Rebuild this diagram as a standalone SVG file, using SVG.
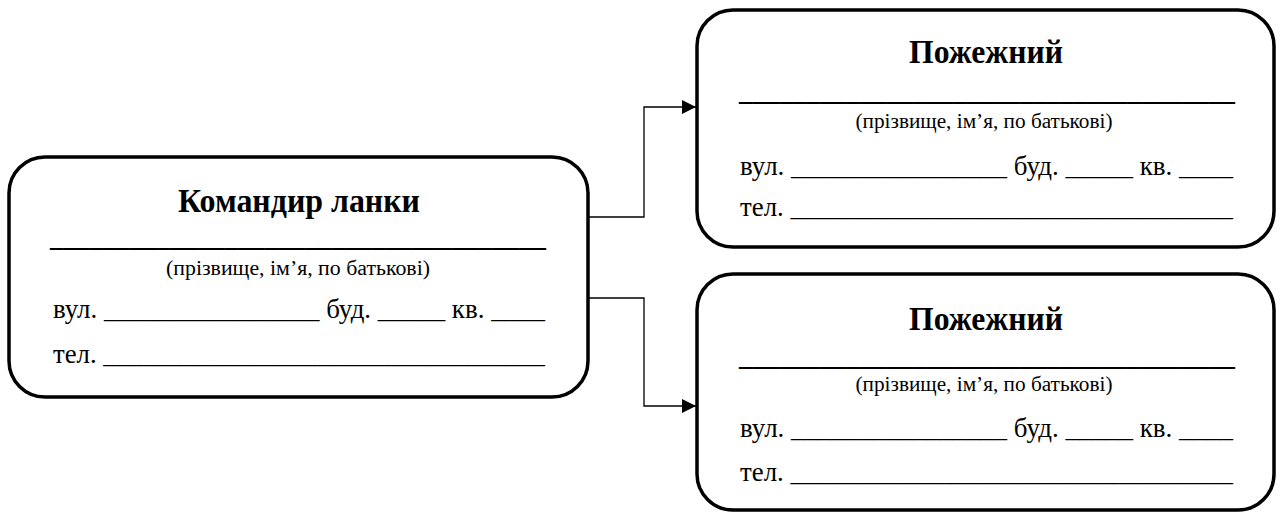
<svg xmlns="http://www.w3.org/2000/svg" width="1283" height="513" viewBox="0 0 1283 513">
<style>
.box{fill:#fff;stroke:#000;stroke-width:3.5}
.t{font-family:"Liberation Serif","DejaVu Serif",serif;fill:#000}
.title{font-size:34px;font-weight:bold;text-anchor:middle}
.body{font-size:28px}
.line{font-size:28px;font-weight:bold}
.small{font-size:20px;text-anchor:middle}
.conn{fill:none;stroke:#000;stroke-width:1.3}
</style>
<defs>
<marker id="arr" markerWidth="14" markerHeight="14" refX="14" refY="7" orient="auto" markerUnits="userSpaceOnUse">
<path d="M0,0 L14,7 L0,14 Z" fill="#000"/>
</marker>
</defs>
<g id="connectors">
<path class="conn" d="M589,217 H644 V107 H696" marker-end="url(#arr)"/>
<path class="conn" d="M589,298 H644 V406 H696" marker-end="url(#arr)"/>
</g>
<g id="commander">
<rect class="box" x="9" y="157" width="579" height="240" rx="36" ry="36"/>
<text class="t title" x="299" y="212" textLength="242" lengthAdjust="spacingAndGlyphs">Командир ланки</text>
<text class="t line" x="50" y="246" textLength="496" lengthAdjust="spacingAndGlyphs">_____________________________________</text>
<text class="t small" x="298" y="275" textLength="264" lengthAdjust="spacingAndGlyphs">(прізвище, ім’я, по батькові)</text>
<text class="t body" x="53" y="318" textLength="492" lengthAdjust="spacingAndGlyphs">вул. ________________ буд. _____ кв. ____</text>
<text class="t body" x="53" y="363" textLength="492" lengthAdjust="spacingAndGlyphs">тел. _________________________________</text>
</g>
<g id="firefighter1">
<rect class="box" x="697" y="10" width="577" height="237" rx="36" ry="36"/>
<text class="t title" x="986" y="63" textLength="154" lengthAdjust="spacingAndGlyphs">Пожежний</text>
<text class="t line" x="739" y="100" textLength="496" lengthAdjust="spacingAndGlyphs">_____________________________________</text>
<text class="t small" x="984" y="128" textLength="257" lengthAdjust="spacingAndGlyphs">(прізвище, ім’я, по батькові)</text>
<text class="t body" x="740" y="175" textLength="493" lengthAdjust="spacingAndGlyphs">вул. ________________ буд. _____ кв. ____</text>
<text class="t body" x="740" y="216" textLength="493" lengthAdjust="spacingAndGlyphs">тел. _________________________________</text>
</g>
<g id="firefighter2">
<rect class="box" x="697" y="274" width="577" height="236" rx="36" ry="36"/>
<text class="t title" x="986" y="330" textLength="154" lengthAdjust="spacingAndGlyphs">Пожежний</text>
<text class="t line" x="739" y="365" textLength="496" lengthAdjust="spacingAndGlyphs">_____________________________________</text>
<text class="t small" x="984" y="391" textLength="257" lengthAdjust="spacingAndGlyphs">(прізвище, ім’я, по батькові)</text>
<text class="t body" x="740" y="437" textLength="493" lengthAdjust="spacingAndGlyphs">вул. ________________ буд. _____ кв. ____</text>
<text class="t body" x="740" y="481" textLength="493" lengthAdjust="spacingAndGlyphs">тел. _________________________________</text>
</g>
</svg>
